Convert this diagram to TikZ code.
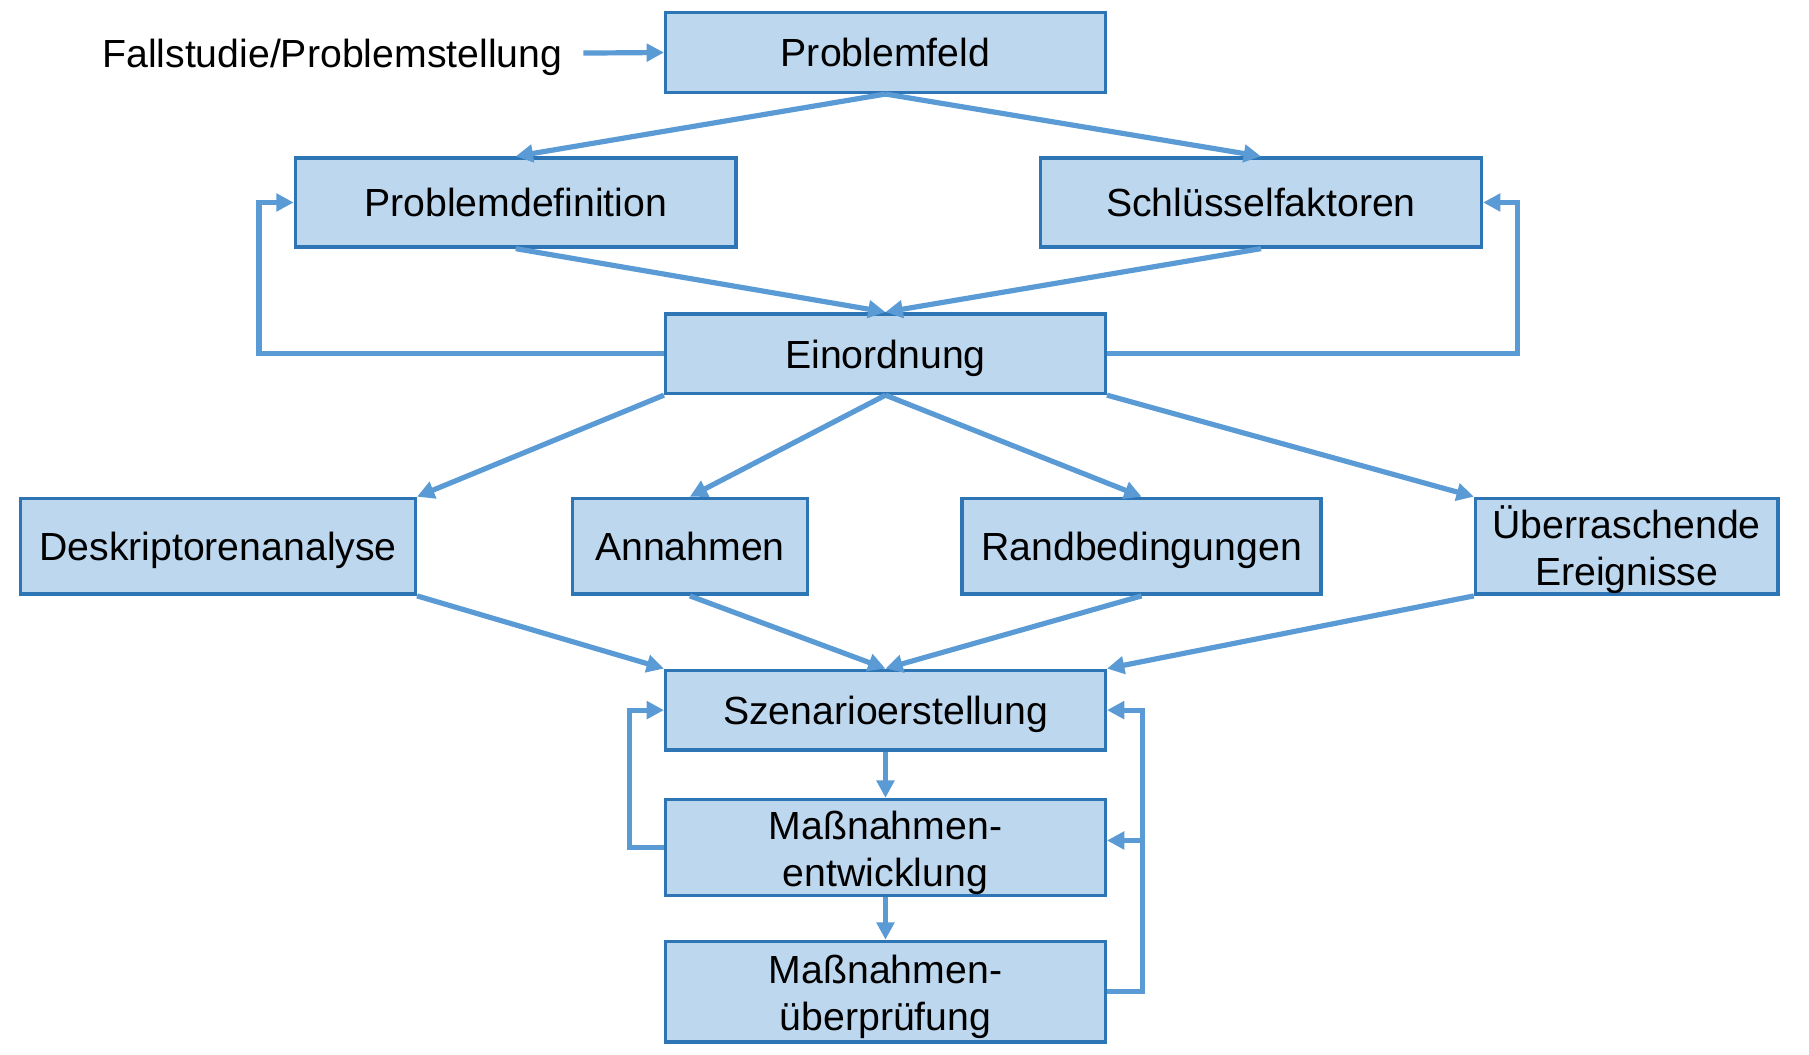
\documentclass[tikz,border=0pt]{standalone}
\usepackage{fontspec}
\setmainfont{Liberation Sans}
\usetikzlibrary{arrows.meta}
\definecolor{boxfill}{HTML}{BDD7EE}
\definecolor{boxline}{HTML}{2E75B6}
\definecolor{arrcol}{HTML}{5B9BD5}
\begin{document}
\begin{tikzpicture}[x=1pt,y=-1pt,
  box/.style={draw=boxline, fill=boxfill, line width=3pt, inner sep=0pt,
    align=center, font=\fontsize{34}{41}\selectfont, text height=25pt, text depth=0pt},
  twoline/.style={text height=68pt, text depth=0pt},
  arr/.style={draw=arrcol, line width=4.5pt,
    -{Triangle[length=15pt,width=15pt]}}]
\useasboundingbox (0,0) rectangle (1568,914);
\node[font=\fontsize{34}{41}\selectfont, inner sep=0pt, text height=25pt, text depth=0pt] (fs) at (288,46) {Fallstudie/Problemstellung};
\node[box, minimum width=381, minimum height=69] (pf) at (767.5,45.5) {Problemfeld};
\node[box, minimum width=382, minimum height=77] (pd) at (447,175.5) {Problemdefinition};
\node[box, minimum width=382, minimum height=77] (sk) at (1093,175.5) {Schlüsselfaktoren};
\node[box, minimum width=381, minimum height=69] (ein) at (767.5,306.5) {Einordnung};
\node[box, minimum width=342, minimum height=83] (desk) at (189,473.5) {Deskriptorenanalyse};
\node[box, minimum width=204, minimum height=83] (ann) at (598,473.5) {Annahmen};
\node[box, minimum width=311, minimum height=83] (rand) at (989.5,473.5) {Randbedingungen};
\node[box, twoline, minimum width=262, minimum height=83] (ueb) at (1410,473.5) {Überraschende\\Ereignisse};
\node[box, minimum width=381, minimum height=69] (sz) at (767.5,615.5) {Szenarioerstellung};
\node[box, twoline, minimum width=381, minimum height=83] (me) at (767.5,734.5) {Maßnahmen-\\entwicklung};
\node[box, twoline, minimum width=381, minimum height=87] (mu) at (767.5,859.5) {Maßnahmen-\\überprüfung};

\draw[arr] ([xshift=18pt]fs.east) -- (pf.west);
\draw[arr] (pf.south) -- (pd.north);
\draw[arr] (pf.south) -- (sk.north);
\draw[arr] (pd.south) -- (ein.north);
\draw[arr] (sk.south) -- (ein.north);
\draw[arr] (ein.west) -| ([xshift=-30pt]pd.west) -- (pd.west);
\draw[arr] (ein.east) -| ([xshift=30pt]sk.east) -- (sk.east);
\draw[arr] (ein.south west) -- (desk.north east);
\draw[arr] (ein.south) -- (ann.north);
\draw[arr] (ein.south) -- (rand.north);
\draw[arr] (ein.south east) -- (ueb.north west);
\draw[arr] (desk.south east) -- (sz.north west);
\draw[arr] (ann.south) -- (sz.north);
\draw[arr] (rand.south) -- (sz.north);
\draw[arr] (ueb.south west) -- (sz.north east);
\draw[arr] (sz.south) -- (me.north);
\draw[arr] (me.south) -- (mu.north);
\draw[arr] (me.west) -| ([xshift=-30pt]sz.west) -- (sz.west);
\draw[arr] (mu.east) -| ([xshift=31pt]sz.east) -- (sz.east);
\draw[arr] ([xshift=31pt,yshift=6pt]me.east) -- ([yshift=6pt]me.east);
\end{tikzpicture}
\end{document}
